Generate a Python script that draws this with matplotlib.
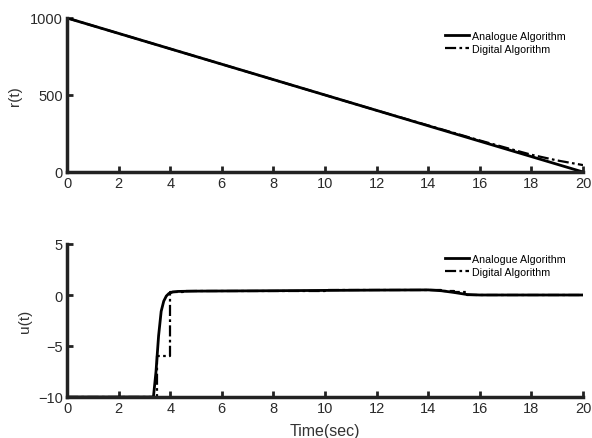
import matplotlib
matplotlib.use("Agg")
import matplotlib.pyplot as plt

plt.rcParams['font.family'] = ['Liberation Sans', 'DejaVu Sans']

# Top panel: r(t)
t_r_analog = [0, 4, 8, 12, 16, 18, 20]
r_analog = [1000, 800, 600, 400, 200, 100, 0]
t_r_digital = [0, 4, 8, 12, 16, 17, 18, 19, 20]
r_digital = [1000, 800, 600, 400, 205, 158, 112, 75, 45]

# Bottom panel: u(t)
t_u_analog = [0, 3.35, 3.45, 3.55, 3.65, 3.75, 3.85, 3.95, 4.1, 4.3, 5, 8, 12, 14, 14.5, 15, 15.5, 16, 20]
u_analog = [-10, -10, -7.5, -4.0, -1.6, -0.6, -0.1, 0.15, 0.3, 0.35, 0.38, 0.42, 0.48, 0.5, 0.42, 0.25, 0.05, 0.0, 0.0]
t_u_digital = [0, 3.5, 4.0, 4.5, 5, 6, 8, 10, 12, 14, 14.5, 15, 15.5, 16, 20]
u_digital = [-10, -6.0, 0.25, 0.36, 0.38, 0.4, 0.42, 0.45, 0.48, 0.5, 0.4, 0.25, 0.0, 0.0, 0.0]

legend_labels = ['Analogue Algorithm', 'Digital Algorithm']

W, H = 592, 439
fig = plt.figure(figsize=(W / 100, H / 100), dpi=100)
ax1 = fig.add_axes([67 / W, 1 - 173 / H, 516 / W, 154 / H])
ax2 = fig.add_axes([67 / W, 1 - 398 / H, 516 / W, 153 / H])

dashdot = (0, (5, 1.5, 1.2, 1.5))


def style(ax):
    for s in ['top', 'right']:
        ax.spines[s].set_visible(False)
    for s in ['left', 'bottom']:
        ax.spines[s].set_linewidth(2.5)
        ax.spines[s].set_color('#222222')
    ax.tick_params(direction='in', length=4, width=2, labelsize=10.5,
                   colors='#222222', labelcolor='#2a2a2a', pad=3)
    ax.set_xlim(0, 20)
    ax.set_xticks(range(0, 21, 2))


ax1.plot(t_r_analog, r_analog, color='black', lw=2, label=legend_labels[0])
ax1.plot(t_r_digital, r_digital, color='black', lw=1.6, ls=dashdot, label=legend_labels[1])
style(ax1)
ax1.set_ylim(0, 1000)
ax1.set_yticks([0, 500, 1000])
ax1.set_ylabel('r(t)', fontsize=11, color='#333333')
ax1.yaxis.set_label_coords(-0.087, 0.5)
ax1.legend(loc='upper right', bbox_to_anchor=(0.985, 0.98), frameon=False,
           fontsize=7.7, handlelength=2.2, handletextpad=0.3, labelspacing=0.3)

ax2.plot(t_u_analog, u_analog, color='black', lw=2, label=legend_labels[0])
ax2.step(t_u_digital, u_digital, where='post', color='black', lw=1.6, ls=dashdot,
         label=legend_labels[1])
style(ax2)
ax2.set_ylim(-10, 5)
ax2.set_yticks([-10, -5, 0, 5])
ax2.set_ylabel('u(t)', fontsize=11, color='#333333')
ax2.yaxis.set_label_coords(-0.068, 0.5)
ax2.set_xlabel('Time(sec)', fontsize=11.5, color='#333333', labelpad=6)
ax2.legend(loc='upper right', bbox_to_anchor=(0.985, 1.0), frameon=False,
           fontsize=7.7, handlelength=2.2, handletextpad=0.3, labelspacing=0.3)

fig.savefig('out.png', dpi=100)
